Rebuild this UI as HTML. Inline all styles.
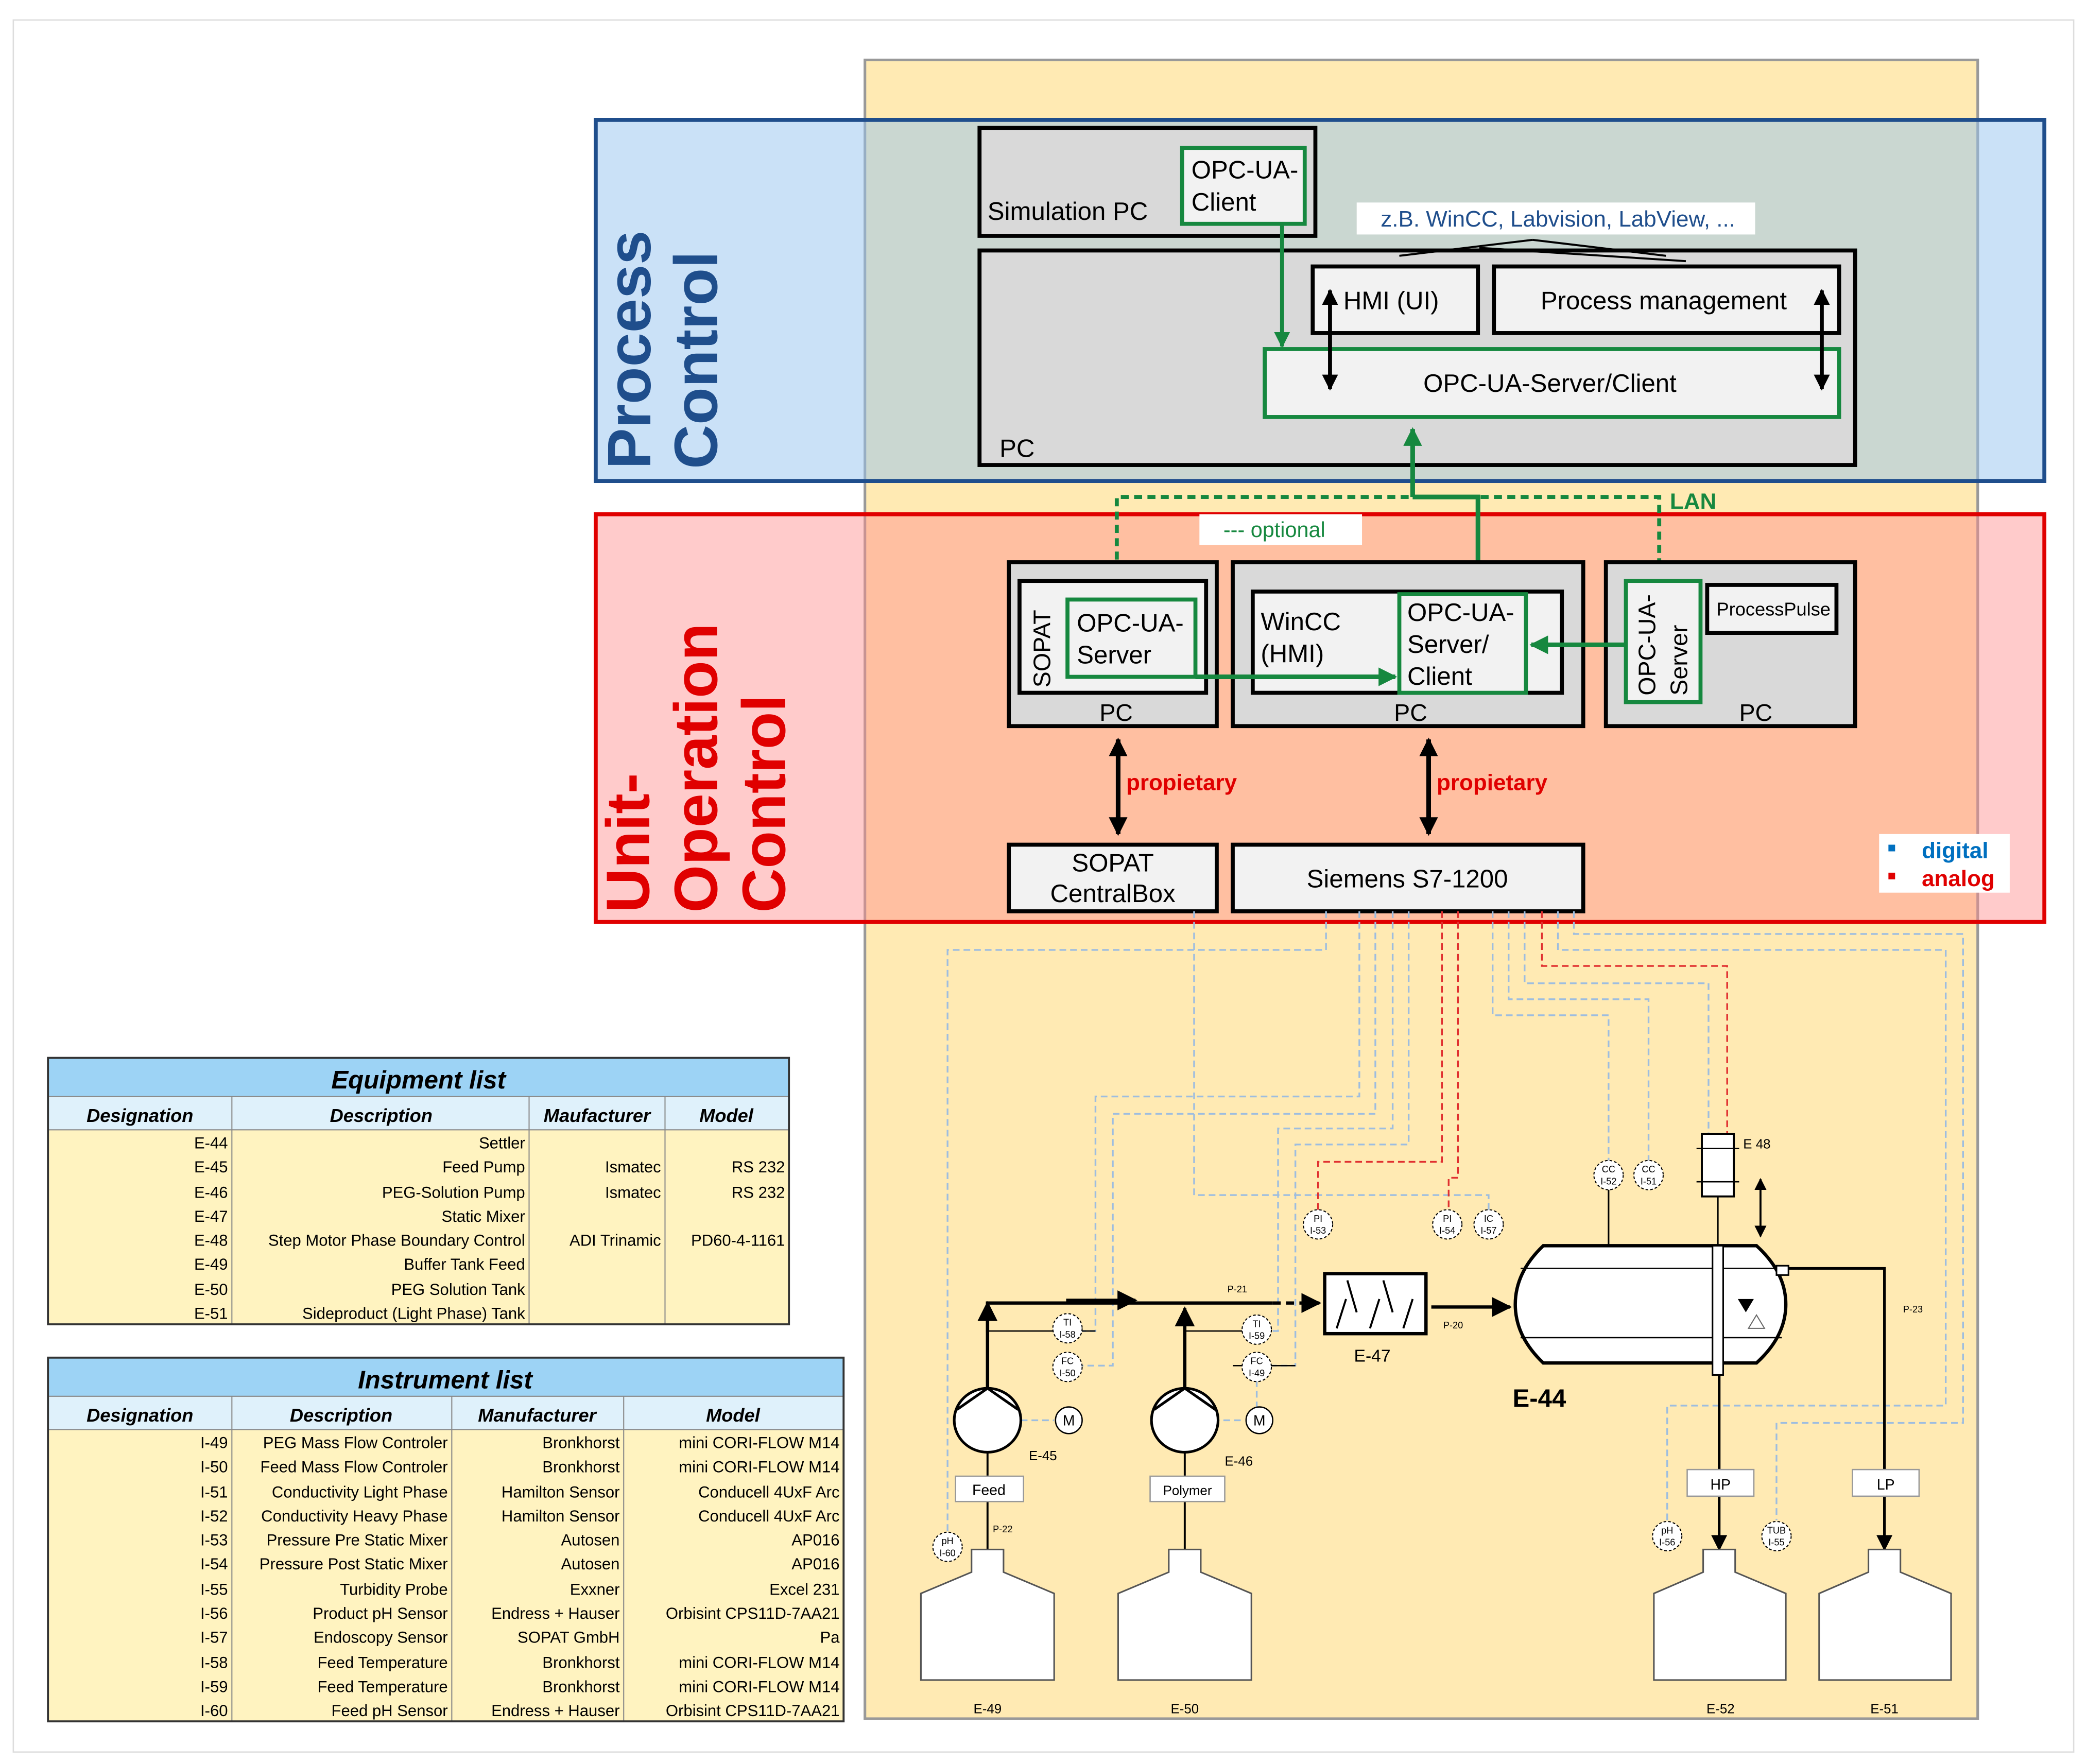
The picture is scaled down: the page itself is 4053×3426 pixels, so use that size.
<!DOCTYPE html>
<html><head><meta charset="utf-8">
<style>
html,body{margin:0;padding:0;background:#fff;}
svg{display:block;}
text{font-family:"Liberation Sans",sans-serif;}
</style></head>
<body>
<svg xmlns="http://www.w3.org/2000/svg" width="4053" height="3426" viewBox="0 0 1566 1324" preserveAspectRatio="none">
<defs>
<marker id="ag" viewBox="0 0 10 10" refX="9" refY="5" markerWidth="4" markerHeight="4" orient="auto-start-reverse"><path d="M0,0L10,5L0,10z" fill="#16883f"/></marker>
<marker id="ab" viewBox="0 0 10 10" refX="9" refY="5" markerWidth="4" markerHeight="4" orient="auto-start-reverse"><path d="M0,0L10,5L0,10z" fill="#000"/></marker>
<marker id="as" viewBox="0 0 10 10" refX="9" refY="5" markerWidth="6" markerHeight="6" orient="auto-start-reverse"><path d="M0,0L10,5L0,10z" fill="#000"/></marker>
</defs>
<rect x="10" y="15" width="1546" height="1300" fill="#fff" stroke="#ddd" stroke-width="1"/>
<rect x="649" y="45" width="835" height="1245" fill="#ffeab3" stroke="#999" stroke-width="2"/>
<rect x="447" y="90" width="1087" height="271" fill="rgba(150,195,240,0.5)" stroke="#1f4e8c" stroke-width="3"/>
<rect x="447" y="386" width="1087" height="306" fill="rgba(255,140,140,0.45)" stroke="#e00000" stroke-width="3"/>
<text transform="translate(488,352) rotate(-90)" font-size="46" font-weight="bold" fill="#1f4e8c">Process</text>
<text transform="translate(538,352) rotate(-90)" font-size="46" font-weight="bold" fill="#1f4e8c">Control</text>
<text transform="translate(487,685) rotate(-90)" font-size="46" font-weight="bold" fill="#e00000">Unit-</text>
<text transform="translate(538,685) rotate(-90)" font-size="46" font-weight="bold" fill="#e00000">Operation</text>
<text transform="translate(589,685) rotate(-90)" font-size="46" font-weight="bold" fill="#e00000">Control</text>

<rect x="735" y="96" width="252" height="81" fill="#d9d9d9" stroke="#000" stroke-width="3"/>
<text x="741" y="165" font-size="19">Simulation PC</text>
<rect x="887" y="111" width="92" height="57" fill="#f2f2f2" stroke="#16883f" stroke-width="3"/>
<text x="894" y="134" font-size="19">OPC-UA-</text><text x="894" y="158" font-size="19">Client</text>
<rect x="735" y="188" width="657" height="161" fill="#d9d9d9" stroke="#000" stroke-width="3"/>
<text x="750" y="343" font-size="19">PC</text>
<path d="M1150,180L1050,192M1150,180L1250,192M1110,186L1265,196" stroke="#000" stroke-width="1.5" fill="none"/>
<rect x="1018" y="152" width="299" height="24" fill="#fff"/>
<text x="1036" y="170" font-size="17" fill="#1f4e8c">z.B. WinCC, Labvision, LabView, ...</text>
<rect x="985" y="200" width="124" height="50" fill="#f2f2f2" stroke="#000" stroke-width="3"/>
<text x="1008" y="232" font-size="19">HMI (UI)</text>
<rect x="1121" y="200" width="259" height="50" fill="#f2f2f2" stroke="#000" stroke-width="3"/>
<text x="1156" y="232" font-size="19">Process management</text>
<rect x="949" y="262" width="431" height="51" fill="#f2f2f2" stroke="#16883f" stroke-width="3"/>
<text x="1068" y="294" font-size="19">OPC-UA-Server/Client</text>
<line x1="962" y1="168" x2="962" y2="260" stroke="#16883f" stroke-width="3" marker-end="url(#ag)"/>
<line x1="998" y1="218" x2="998" y2="292" stroke="#000" stroke-width="3" marker-start="url(#ab)" marker-end="url(#ab)"/>
<line x1="1367" y1="218" x2="1367" y2="292" stroke="#000" stroke-width="3" marker-start="url(#ab)" marker-end="url(#ab)"/>

<path d="M838,450V373H1245V435" stroke="#16883f" stroke-width="3" stroke-dasharray="6,4" fill="none"/>
<path d="M1060,373V322" stroke="#16883f" stroke-width="3.5" fill="none" marker-end="url(#ag)"/>
<path d="M1060,373H1109V442" stroke="#16883f" stroke-width="3.5" fill="none" marker-end="url(#ag)"/>
<text x="1253" y="382" font-size="17" font-weight="bold" fill="#16883f">LAN</text>
<rect x="900" y="386" width="122" height="23" fill="#fff"/>
<text x="918" y="403" font-size="16" fill="#16883f">--- optional</text>

<rect x="757" y="422" width="156" height="123" fill="#d9d9d9" stroke="#000" stroke-width="3"/>
<rect x="765" y="436" width="140" height="84" fill="#f2f2f2" stroke="#000" stroke-width="3"/>
<text transform="translate(788,516) rotate(-90)" font-size="18">SOPAT</text>
<rect x="801" y="450" width="96" height="58" fill="#f2f2f2" stroke="#16883f" stroke-width="3"/>
<text x="808" y="474" font-size="19">OPC-UA-</text><text x="808" y="498" font-size="19">Server</text>
<text x="825" y="541" font-size="18">PC</text>

<rect x="925" y="422" width="263" height="123" fill="#d9d9d9" stroke="#000" stroke-width="3"/>
<rect x="940" y="444" width="232" height="76" fill="#f2f2f2" stroke="#000" stroke-width="3"/>
<text x="946" y="473" font-size="19">WinCC</text><text x="946" y="497" font-size="19">(HMI)</text>
<rect x="1050" y="446" width="95" height="74" fill="#f2f2f2" stroke="#16883f" stroke-width="3"/>
<text x="1056" y="466" font-size="19">OPC-UA-</text><text x="1056" y="490" font-size="19">Server/</text><text x="1056" y="514" font-size="19">Client</text>
<text x="1046" y="541" font-size="18">PC</text>

<rect x="1205" y="422" width="187" height="123" fill="#d9d9d9" stroke="#000" stroke-width="3"/>
<rect x="1220" y="436" width="56" height="91" fill="#f2f2f2" stroke="#16883f" stroke-width="3"/>
<text transform="translate(1242,522) rotate(-90)" font-size="18">OPC-UA-</text>
<text transform="translate(1266,522) rotate(-90)" font-size="18">Server</text>
<rect x="1281" y="439" width="97" height="36" fill="#f2f2f2" stroke="#000" stroke-width="3"/>
<text x="1288" y="462" font-size="14">ProcessPulse</text>
<text x="1305" y="541" font-size="18">PC</text>

<line x1="897" y1="508" x2="1047" y2="508" stroke="#16883f" stroke-width="3.5" marker-end="url(#ag)"/>
<line x1="1220" y1="484" x2="1149" y2="484" stroke="#16883f" stroke-width="3.5" marker-end="url(#ag)"/>
<line x1="839" y1="555" x2="839" y2="626" stroke="#000" stroke-width="3.5" marker-start="url(#ab)" marker-end="url(#ab)"/>
<line x1="1072" y1="555" x2="1072" y2="626" stroke="#000" stroke-width="3.5" marker-start="url(#ab)" marker-end="url(#ab)"/>
<text x="845" y="593" font-size="17" font-weight="bold" fill="#e00000">propietary</text>
<text x="1078" y="593" font-size="17" font-weight="bold" fill="#e00000">propietary</text>
<rect x="757" y="634" width="156" height="50" fill="#f2f2f2" stroke="#000" stroke-width="3"/>
<text x="835" y="654" font-size="19" text-anchor="middle">SOPAT</text><text x="835" y="677" font-size="19" text-anchor="middle">CentralBox</text>
<rect x="925" y="634" width="263" height="50" fill="#f2f2f2" stroke="#000" stroke-width="3"/>
<text x="1056" y="666" font-size="19" text-anchor="middle">Siemens S7-1200</text>
<rect x="1410" y="626" width="98" height="44" fill="#fff"/>
<rect x="1417" y="634" width="5" height="5" fill="#0070c0"/><text x="1442" y="644" font-size="17" font-weight="bold" fill="#0070c0">digital</text>
<rect x="1417" y="655" width="5" height="5" fill="#e00000"/><text x="1442" y="665" font-size="17" font-weight="bold" fill="#e00000">analog</text>

<g fill="none" stroke="#9dbde0" stroke-width="1.3" stroke-dasharray="5,3">
<path d="M995,684V713H711V1150"/>
<path d="M896,684V897H1117V908"/>
<path d="M1020,684V823H822V999H812"/>
<path d="M1032,684V836H835V1025H812"/>
<path d="M1045,684V847H959V999H954"/>
<path d="M1057,684V859H972V1025H954"/>
<path d="M1120,684V762H1207V871"/>
<path d="M1132,684V750H1237V871"/>
<path d="M1144,684V738H1282V851"/>
<path d="M1169,684V713H1460V1055H1251V1141"/>
<path d="M1181,684V701H1473V1068H1333V1141"/>
<path d="M943,1036V1057"/>
<path d="M766,1066H791M910,1066H933"/>
</g>
<g fill="none" stroke="#e03030" stroke-width="1.3" stroke-dasharray="5,3">
<path d="M1082,684V872H989V908"/>
<path d="M1094,684V884H1087V908"/>
<path d="M1157,684V725H1296V851"/>
</g>

<g fill="none" stroke="#000">
<path d="M741,1042V978H955" stroke-width="2.5"/>
<line x1="741" y1="1000" x2="741" y2="978" stroke-width="2.5" marker-end="url(#as)"/>
<line x1="800" y1="976" x2="852" y2="976" stroke-width="2.5" marker-end="url(#as)"/>
<path d="M955,978H990" stroke-width="2.5" stroke-dasharray="6,4" marker-end="url(#as)"/>
<path d="M889,1042V982" stroke-width="2.5" marker-end="url(#as)"/>
<path d="M741,999H822M925,1025H972M889,999H954" stroke-width="1"/>
<path d="M741,1090V1108M741,1127V1163M889,1090V1108M889,1127V1163" stroke-width="1.5"/>
<line x1="1074" y1="981" x2="1133" y2="981" stroke-width="2.5" marker-end="url(#as)"/>
<path d="M1340,952H1414V1163" stroke-width="2" marker-end="url(#as)"/>
<path d="M1290,1032V1163" stroke-width="2" marker-end="url(#as)"/>
<line x1="1321" y1="885" x2="1321" y2="928" stroke-width="1.5" marker-start="url(#as)" marker-end="url(#as)"/>
<path d="M1289,898V935M1207,893V1010" stroke-width="1.2"/>
</g>
<rect x="994" y="956" width="76" height="45" fill="#fff" stroke="#000" stroke-width="2.5"/>
<path d="M1011,961L1018,985M1038,961L1045,985M1003,997L1010,975M1028,997L1035,975M1053,997L1060,975" stroke="#000" stroke-width="1.5"/>
<text x="1016" y="1022" font-size="13">E-47</text>
<text x="1083" y="997" font-size="7">P-20</text>
<text x="921" y="970" font-size="7">P-21</text>
<text x="1428" y="985" font-size="7">P-23</text>
<text x="745" y="1150" font-size="7">P-22</text>
<path d="M1158,935H1318Q1340,955 1340,979Q1340,1003 1318,1023H1158Q1137,1003 1137,979Q1137,955 1158,935Z" fill="#fff" stroke="#000" stroke-width="2.5"/>
<path d="M1141,952H1337M1141,1004H1337" stroke="#000" stroke-width="1"/>
<rect x="1285" y="935" width="8" height="97" fill="#fff" stroke="#000" stroke-width="1.2"/>
<path d="M1304,975L1316,975L1310,985Z" fill="#000"/>
<path d="M1312,997L1324,997L1318,987Z" fill="none" stroke="#666" stroke-width="0.8"/>
<rect x="1333" y="950" width="9" height="7" fill="#fff" stroke="#000" stroke-width="1.2"/>
<text x="1135" y="1056" font-size="19" font-weight="bold">E-44</text>
<rect x="1277" y="851" width="24" height="47" fill="#fff" stroke="#000" stroke-width="1.5"/>
<path d="M1273,862H1305M1273,887H1305" stroke="#000" stroke-width="1"/>
<text x="1308" y="862" font-size="10">E 48</text>
<g fill="#fff" stroke="#000" stroke-width="2">
<ellipse cx="741" cy="1066" rx="25" ry="24"/><ellipse cx="889" cy="1066" rx="25" ry="24"/>
</g>
<path d="M718,1058L741,1042L764,1058M866,1058L889,1042L912,1058" fill="none" stroke="#000" stroke-width="2"/>
<g fill="#fff" stroke="#000" stroke-width="1"><circle cx="802" cy="1066" r="10"/><circle cx="945" cy="1066" r="10"/></g>
<text x="802" y="1070" font-size="11" text-anchor="middle">M</text><text x="945" y="1070" font-size="11" text-anchor="middle">M</text>
<text x="772" y="1096" font-size="10">E-45</text><text x="919" y="1100" font-size="10">E-46</text>
<g fill="#fff" stroke="#999" stroke-width="1">
<rect x="717" y="1108" width="51" height="19"/><rect x="863" y="1108" width="56" height="19"/>
<rect x="1266" y="1103" width="50" height="20"/><rect x="1390" y="1103" width="50" height="20"/>
</g>
<text x="742" y="1122" font-size="11" text-anchor="middle">Feed</text>
<text x="891" y="1122" font-size="10" text-anchor="middle">Polymer</text>
<text x="1291" y="1118" font-size="11" text-anchor="middle">HP</text>
<text x="1415" y="1118" font-size="11" text-anchor="middle">LP</text>
<g fill="#fff" stroke="#555" stroke-width="1.2">
<path d="M729,1163H753V1180L791,1196V1261H691V1196L729,1180Z"/>
<path d="M877,1163H901V1180L939,1196V1261H839V1196L877,1180Z"/>
<path d="M1278,1163H1302V1180L1340,1196V1261H1241V1196L1278,1180Z"/>
<path d="M1402,1163H1426V1180L1464,1196V1261H1365V1196L1402,1180Z"/>
</g>
<g font-size="10" text-anchor="middle">
<text x="741" y="1286">E-49</text><text x="889" y="1286">E-50</text><text x="1291" y="1286">E-52</text><text x="1414" y="1286">E-51</text>
</g>
<g fill="#fff" stroke="#000" stroke-width="0.8" stroke-dasharray="2,1.5">
<circle cx="711" cy="1161" r="11"/><circle cx="801" cy="997" r="11"/><circle cx="801" cy="1026" r="11"/>
<circle cx="943" cy="998" r="11"/><circle cx="943" cy="1026" r="11"/><circle cx="989" cy="919" r="11"/>
<circle cx="1086" cy="919" r="11"/><circle cx="1117" cy="919" r="11"/><circle cx="1207" cy="882" r="11"/>
<circle cx="1237" cy="882" r="11"/><circle cx="1251" cy="1153" r="11"/><circle cx="1333" cy="1153" r="11"/>
</g>
<g font-size="7" text-anchor="middle">
<text x="711" y="1159">pH</text><text x="711" y="1168">I-60</text>
<text x="801" y="995">TI</text><text x="801" y="1004">I-58</text>
<text x="801" y="1024">FC</text><text x="801" y="1033">I-50</text>
<text x="943" y="996">TI</text><text x="943" y="1005">I-59</text>
<text x="943" y="1024">FC</text><text x="943" y="1033">I-49</text>
<text x="989" y="917">PI</text><text x="989" y="926">I-53</text>
<text x="1086" y="917">PI</text><text x="1086" y="926">I-54</text>
<text x="1117" y="917">IC</text><text x="1117" y="926">I-57</text>
<text x="1207" y="880">CC</text><text x="1207" y="889">I-52</text>
<text x="1237" y="880">CC</text><text x="1237" y="889">I-51</text>
<text x="1251" y="1151">pH</text><text x="1251" y="1160">I-56</text>
<text x="1333" y="1151">TUB</text><text x="1333" y="1160">I-55</text>
</g>

<rect x="36" y="794" width="556" height="29" fill="#9dd3f5"/>
<rect x="36" y="823" width="556" height="25" fill="#dff1fb"/>
<rect x="36" y="848" width="556" height="146" fill="#fff3c0"/>
<g stroke="#888" stroke-width="0.8"><path d="M174,823V994M397,823V994M499,823V994M36,823H592M36,848H592"/></g>
<rect x="36" y="794" width="556" height="200" fill="none" stroke="#333" stroke-width="1.5"/>
<text x="314" y="817" font-size="19" font-weight="bold" font-style="italic" text-anchor="middle">Equipment list</text>
<g font-size="14" font-weight="bold" font-style="italic" text-anchor="middle">
<text x="105" y="842">Designation</text><text x="286" y="842">Description</text><text x="448" y="842">Maufacturer</text><text x="545" y="842">Model</text></g>
<g font-size="12" text-anchor="end">
<text x="171" y="862">E-44</text><text x="394" y="862">Settler</text>
<text x="171" y="880">E-45</text><text x="394" y="880">Feed Pump</text><text x="496" y="880">Ismatec</text><text x="589" y="880">RS 232</text>
<text x="171" y="899">E-46</text><text x="394" y="899">PEG-Solution Pump</text><text x="496" y="899">Ismatec</text><text x="589" y="899">RS 232</text>
<text x="171" y="917">E-47</text><text x="394" y="917">Static Mixer</text>
<text x="171" y="935">E-48</text><text x="394" y="935">Step Motor Phase Boundary Control</text><text x="496" y="935">ADI Trinamic</text><text x="589" y="935">PD60-4-1161</text>
<text x="171" y="953">E-49</text><text x="394" y="953">Buffer Tank Feed</text>
<text x="171" y="972">E-50</text><text x="394" y="972">PEG Solution Tank</text>
<text x="171" y="990">E-51</text><text x="394" y="990">Sideproduct (Light Phase) Tank</text>
</g>

<rect x="36" y="1019" width="597" height="29" fill="#9dd3f5"/>
<rect x="36" y="1048" width="597" height="25" fill="#dff1fb"/>
<rect x="36" y="1073" width="597" height="219" fill="#fff3c0"/>
<g stroke="#888" stroke-width="0.8"><path d="M174,1048V1292M339,1048V1292M468,1048V1292M36,1048H633M36,1073H633"/></g>
<rect x="36" y="1019" width="597" height="273" fill="none" stroke="#333" stroke-width="1.5"/>
<text x="334" y="1042" font-size="19" font-weight="bold" font-style="italic" text-anchor="middle">Instrument list</text>
<g font-size="14" font-weight="bold" font-style="italic" text-anchor="middle">
<text x="105" y="1067">Designation</text><text x="256" y="1067">Description</text><text x="403" y="1067">Manufacturer</text><text x="550" y="1067">Model</text></g>
<g font-size="12" text-anchor="end">
<text x="171" y="1087">I-49</text><text x="336" y="1087">PEG Mass Flow Controler</text><text x="465" y="1087">Bronkhorst</text><text x="630" y="1087">mini CORI-FLOW M14</text>
<text x="171" y="1105">I-50</text><text x="336" y="1105">Feed Mass Flow Controler</text><text x="465" y="1105">Bronkhorst</text><text x="630" y="1105">mini CORI-FLOW M14</text>
<text x="171" y="1124">I-51</text><text x="336" y="1124">Conductivity Light Phase</text><text x="465" y="1124">Hamilton Sensor</text><text x="630" y="1124">Conducell 4UxF Arc</text>
<text x="171" y="1142">I-52</text><text x="336" y="1142">Conductivity Heavy Phase</text><text x="465" y="1142">Hamilton Sensor</text><text x="630" y="1142">Conducell 4UxF Arc</text>
<text x="171" y="1160">I-53</text><text x="336" y="1160">Pressure Pre Static Mixer</text><text x="465" y="1160">Autosen</text><text x="630" y="1160">AP016</text>
<text x="171" y="1178">I-54</text><text x="336" y="1178">Pressure Post Static Mixer</text><text x="465" y="1178">Autosen</text><text x="630" y="1178">AP016</text>
<text x="171" y="1197">I-55</text><text x="336" y="1197">Turbidity Probe</text><text x="465" y="1197">Exxner</text><text x="630" y="1197">Excel 231</text>
<text x="171" y="1215">I-56</text><text x="336" y="1215">Product pH Sensor</text><text x="465" y="1215">Endress + Hauser</text><text x="630" y="1215">Orbisint CPS11D-7AA21</text>
<text x="171" y="1233">I-57</text><text x="336" y="1233">Endoscopy Sensor</text><text x="465" y="1233">SOPAT GmbH</text><text x="630" y="1233">Pa</text>
<text x="171" y="1252">I-58</text><text x="336" y="1252">Feed Temperature</text><text x="465" y="1252">Bronkhorst</text><text x="630" y="1252">mini CORI-FLOW M14</text>
<text x="171" y="1270">I-59</text><text x="336" y="1270">Feed Temperature</text><text x="465" y="1270">Bronkhorst</text><text x="630" y="1270">mini CORI-FLOW M14</text>
<text x="171" y="1288">I-60</text><text x="336" y="1288">Feed pH Sensor</text><text x="465" y="1288">Endress + Hauser</text><text x="630" y="1288">Orbisint CPS11D-7AA21</text>
</g>
</svg>
</body></html>
